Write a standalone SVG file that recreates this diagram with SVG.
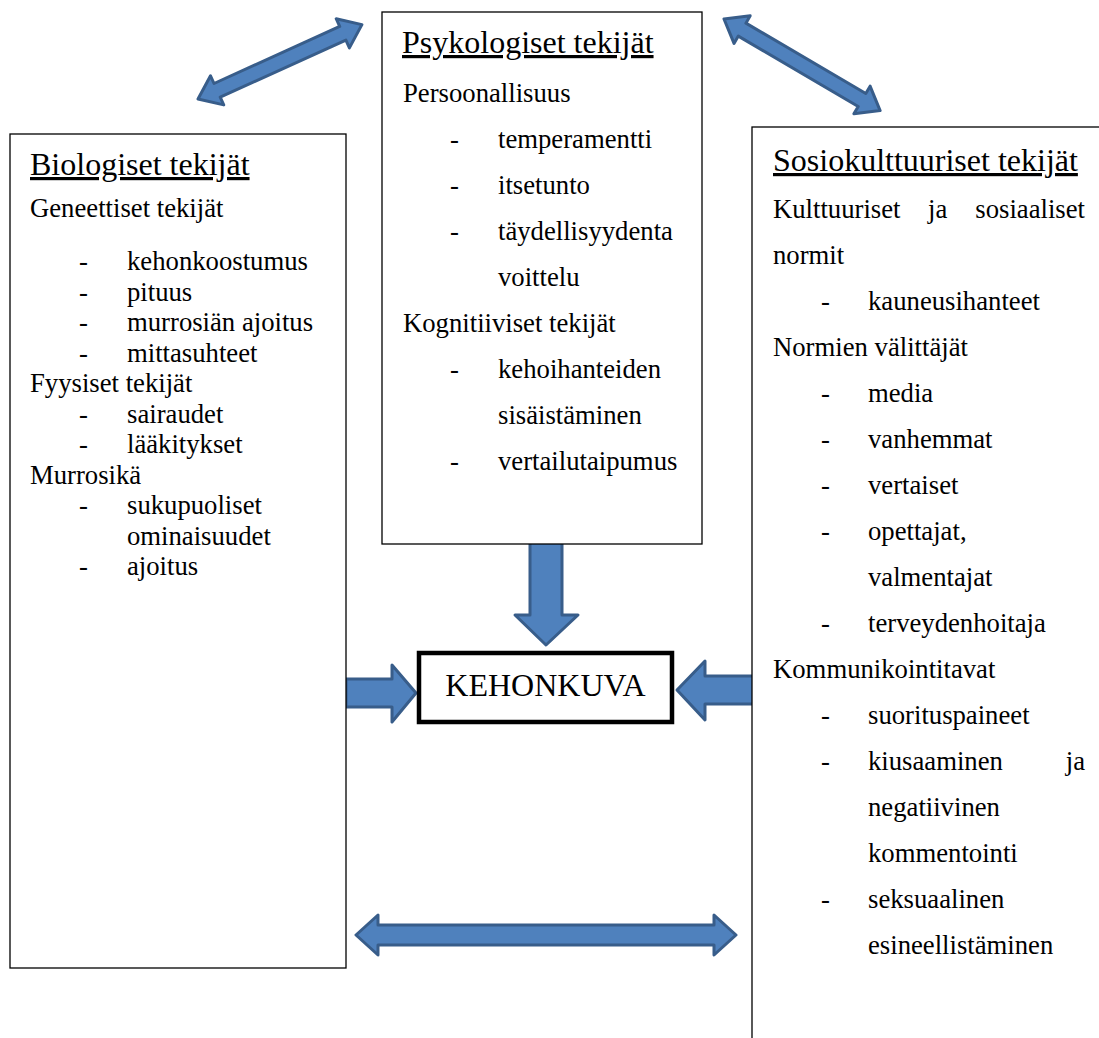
<svg xmlns="http://www.w3.org/2000/svg" width="1099" height="1038" viewBox="0 0 1099 1038">
<style>
.box{fill:#fff;stroke:#000;stroke-width:1.3}
.t{font-family:'Liberation Serif','Times New Roman',serif;font-size:26.7px;fill:#000}
.h{font-family:'Liberation Serif','Times New Roman',serif;font-size:32px;fill:#000;text-decoration:underline}
.arr{fill:#4F81BD;stroke:#385D8A;stroke-width:3;stroke-linejoin:round}
</style>
<rect width="1099" height="1038" fill="#fff"/>

<g id="connectors">
<path class="arr" transform="translate(198,99) rotate(-24.4)" d="M0,0 L21,-16 L21,-7.5 L159,-7.5 L159,-16 L180,0 L159,16 L159,7.5 L21,7.5 L21,16 Z"/>
<path class="arr" transform="translate(724,19) rotate(30.4)" d="M0,0 L21,-16 L21,-7.5 L160,-7.5 L160,-16 L181,0 L160,16 L160,7.5 L21,7.5 L21,16 Z"/>
<path class="arr" d="M356,935 L378,915 L378,925 L714,925 L714,915 L736,935 L714,955 L714,945 L378,945 L378,955 Z"/>
<path class="arr" d="M530,540 L530,615 L515,615 L546,645 L578,615 L562,615 L562,540 Z"/>
<path class="arr" d="M346,679 L392,679 L392,665 L416,693 L392,722 L392,707 L346,707 Z"/>
<path class="arr" d="M755,676 L705,676 L705,661 L677,690 L705,720 L705,704 L755,704 Z"/>
</g>

<g id="biologiset">
<rect class="box" x="10" y="134" width="336" height="834"/>
<text class="h" x="30" y="175">Biologiset tekijät</text>
<text class="t" x="30" y="217">Geneettiset tekijät</text>
<text class="t" x="79" y="270">-</text><text class="t" x="127" y="270">kehonkoostumus</text>
<text class="t" x="79" y="300.5">-</text><text class="t" x="127" y="300.5">pituus</text>
<text class="t" x="79" y="331">-</text><text class="t" x="127" y="331">murrosiän ajoitus</text>
<text class="t" x="79" y="361.5">-</text><text class="t" x="127" y="361.5">mittasuhteet</text>
<text class="t" x="30" y="392">Fyysiset tekijät</text>
<text class="t" x="79" y="422.5">-</text><text class="t" x="127" y="422.5">sairaudet</text>
<text class="t" x="79" y="453">-</text><text class="t" x="127" y="453">lääkitykset</text>
<text class="t" x="30" y="483.5">Murrosikä</text>
<text class="t" x="79" y="514">-</text><text class="t" x="127" y="514">sukupuoliset</text>
<text class="t" x="127" y="544.5">ominaisuudet</text>
<text class="t" x="79" y="575">-</text><text class="t" x="127" y="575">ajoitus</text>
</g>

<g id="psykologiset">
<rect class="box" x="382" y="12" width="320" height="532"/>
<text class="h" x="402" y="53">Psykologiset tekijät</text>
<text class="t" x="403" y="102">Persoonallisuus</text>
<text class="t" x="450" y="148">-</text><text class="t" x="498" y="148">temperamentti</text>
<text class="t" x="450" y="194">-</text><text class="t" x="498" y="194">itsetunto</text>
<text class="t" x="450" y="240">-</text><text class="t" x="498" y="240">täydellisyydenta</text>
<text class="t" x="498" y="286">voittelu</text>
<text class="t" x="403" y="332">Kognitiiviset tekijät</text>
<text class="t" x="450" y="378">-</text><text class="t" x="498" y="378">kehoihanteiden</text>
<text class="t" x="498" y="424">sisäistäminen</text>
<text class="t" x="450" y="470">-</text><text class="t" x="498" y="470">vertailutaipumus</text>
</g>

<g id="sosiokulttuuriset">
<rect class="box" x="752" y="127" width="400" height="960"/>
<text class="h" x="773" y="171">Sosiokulttuuriset tekijät</text>
<text class="t" x="773" y="218">Kulttuuriset</text><text class="t" x="928" y="218">ja</text><text class="t" x="1085" y="218" text-anchor="end">sosiaaliset</text>
<text class="t" x="773" y="264">normit</text>
<text class="t" x="821" y="310">-</text><text class="t" x="868" y="310">kauneusihanteet</text>
<text class="t" x="773" y="356">Normien välittäjät</text>
<text class="t" x="821" y="402">-</text><text class="t" x="868" y="402">media</text>
<text class="t" x="821" y="448">-</text><text class="t" x="868" y="448">vanhemmat</text>
<text class="t" x="821" y="494">-</text><text class="t" x="868" y="494">vertaiset</text>
<text class="t" x="821" y="540">-</text><text class="t" x="868" y="540">opettajat,</text>
<text class="t" x="868" y="586">valmentajat</text>
<text class="t" x="821" y="632">-</text><text class="t" x="868" y="632">terveydenhoitaja</text>
<text class="t" x="773" y="678">Kommunikointitavat</text>
<text class="t" x="821" y="724">-</text><text class="t" x="868" y="724">suorituspaineet</text>
<text class="t" x="821" y="770">-</text><text class="t" x="868" y="770">kiusaaminen</text><text class="t" x="1085" y="770" text-anchor="end">ja</text>
<text class="t" x="868" y="816">negatiivinen</text>
<text class="t" x="868" y="862">kommentointi</text>
<text class="t" x="821" y="908">-</text><text class="t" x="868" y="908">seksuaalinen</text>
<text class="t" x="868" y="954">esineellistäminen</text>
</g>

<g id="kehonkuva">
<rect x="419" y="653" width="253" height="69" fill="#fff" stroke="#000" stroke-width="4.5"/>
<text x="545.5" y="696" text-anchor="middle" font-family="'Liberation Serif','Times New Roman',serif" font-size="32">KEHONKUVA</text>
</g>
</svg>
